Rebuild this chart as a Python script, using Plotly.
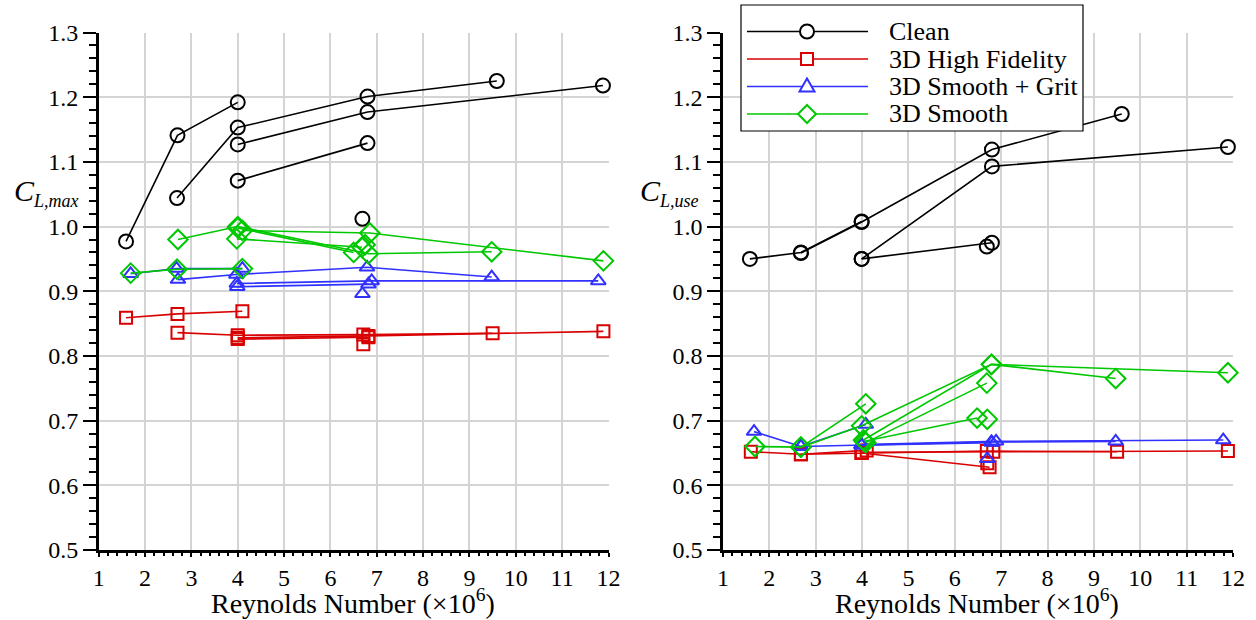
import plotly.graph_objects as go

# ---------------- data (Reynolds number x1e6, coefficient) ----------------
# Left panel: C_L,max
clean_max = [
    ([1.59, 2.70, 4.00], [0.977, 1.141, 1.192]),
    ([2.69, 4.00, 6.80, 9.59], [1.044, 1.153, 1.201, 1.225]),
    ([4.00, 6.80, 11.88], [1.127, 1.177, 1.218]),
    ([4.00, 6.80], [1.071, 1.129]),
    ([6.69], [1.012]),
]
hifi_max = [
    ([1.59, 2.70, 4.10], [0.859, 0.865, 0.869]),
    ([2.70, 4.00, 6.71, 9.50], [0.836, 0.832, 0.833, 0.835]),
    ([4.00, 6.82, 11.89], [0.828, 0.831, 0.838]),
    ([4.00, 6.82], [0.826, 0.829]),
    ([6.71], [0.818]),
]
grit_max = [
    ([1.69, 2.68, 4.10], [0.927, 0.935, 0.935]),
    ([2.71, 3.97, 6.79, 9.48], [0.918, 0.926, 0.937, 0.922]),
    ([3.98, 6.89, 11.78], [0.912, 0.916, 0.916]),
    ([3.99, 6.82], [0.907, 0.911]),
    ([6.69], [0.896]),
]
smooth_max = [
    ([1.69, 2.69, 4.10], [0.928, 0.934, 0.935]),
    ([2.71, 4.00, 6.82, 9.48], [0.980, 1.000, 0.958, 0.961]),
    ([4.10, 6.85, 11.89], [0.994, 0.990, 0.947]),
    ([3.98, 6.68], [0.981, 0.968]),
    ([4.00, 6.50], [0.998, 0.960]),
    ([6.75], [0.972]),
]

# Right panel: C_L,use
clean_use = [
    ([1.58, 2.68, 3.99], [0.950, 0.960, 1.008]),
    ([2.68, 3.99, 6.80, 9.60], [0.959, 1.007, 1.119, 1.174]),
    ([3.99, 6.80, 11.89], [0.950, 1.093, 1.123]),
    ([3.99, 6.80], [0.950, 0.975]),
    ([6.69], [0.969]),
]
hifi_use = [
    ([1.60, 2.68, 4.10], [0.652, 0.648, 0.654]),
    ([2.68, 3.99, 6.69, 9.50], [0.648, 0.650, 0.653, 0.652]),
    ([3.99, 6.83, 11.89], [0.651, 0.652, 0.653]),
    ([3.99, 6.75], [0.650, 0.628]),
    ([6.70], [0.634]),
]
grit_use = [
    ([1.67, 2.68, 4.08], [0.683, 0.660, 0.694]),
    ([2.68, 3.99, 6.79, 9.47], [0.660, 0.662, 0.667, 0.668]),
    ([3.99, 6.89, 11.79], [0.663, 0.668, 0.670]),
    ([3.99, 6.80], [0.662, 0.666]),
    ([6.70], [0.641]),
]
smooth_use = [
    ([1.69, 2.68, 4.08], [0.660, 0.659, 0.726]),
    ([2.68, 3.99, 6.79, 9.47], [0.659, 0.692, 0.787, 0.765]),
    ([4.03, 6.79, 11.89], [0.670, 0.787, 0.774]),
    ([4.08, 6.69], [0.666, 0.758]),
    ([4.05, 6.48], [0.668, 0.704]),
    ([6.70], [0.702]),
]

categories = ["Clean", "3D High Fidelity", "3D Smooth + Grit", "3D Smooth"]
colors = ["#000000", "#d80000", "#3030ff", "#00c800"]
symbols = ["circle-open", "square-open", "triangle-up-open", "diamond-open"]
msizes = [14, 12, 13, 15]

left_sets = [clean_max, hifi_max, grit_max, smooth_max]
right_sets = [clean_use, hifi_use, grit_use, smooth_use]

FONT = "Liberation Serif"
W, H = 1256, 620
fig = go.Figure()

for panel, sets in (("", left_sets), ("2", right_sets)):
    for ci, series_list in enumerate(sets):
        for xs, ys in series_list:
            fig.add_trace(go.Scatter(
                x=xs, y=ys, mode="lines+markers",
                xaxis="x" + panel, yaxis="y" + panel,
                name=categories[ci], showlegend=False,
                line=dict(color=colors[ci], width=1.6),
                marker=dict(symbol=symbols[ci], size=msizes[ci],
                            color=colors[ci], line=dict(width=2, color=colors[ci])),
                cliponaxis=False,
            ))

ytop, ybot = 32.5, 550.0
dom_y = [(H - ybot) / H, (H - ytop) / H]


def xax(x0, x1, anchor):
    return dict(
        domain=[x0 / W, x1 / W], range=[1, 12], dtick=1, tick0=1, anchor=anchor,
        showgrid=True, gridcolor="#d4d4d4", gridwidth=2,
        showline=True, linecolor="black", linewidth=2.5,
        ticks="outside", ticklen=4, tickwidth=2, tickcolor="black",
        minor=dict(dtick=0.2, ticklen=3, tickwidth=1.5, tickcolor="black",
                   ticks="outside", showgrid=False),
        tickfont=dict(family=FONT, size=24, color="black"),
        zeroline=False, automargin=False,
    )


def yax(anchor):
    return dict(
        domain=dom_y, range=[0.5, 1.3], dtick=0.1, tick0=0.5,
        tickformat=".1f", anchor=anchor,
        showgrid=True, gridcolor="#d4d4d4", gridwidth=2,
        showline=True, linecolor="black", linewidth=2.5,
        ticks="outside", ticklen=13, tickwidth=2, tickcolor="black",
        minor=dict(dtick=0.02, ticklen=7, tickwidth=1.5, tickcolor="black",
                   ticks="outside", showgrid=False),
        tickfont=dict(family=FONT, size=24, color="black"),
        zeroline=False, automargin=False,
    )


def PX(px):
    return px / W


def PY(py):
    return (H - py) / H


annotations = []
for cx, sub in ((46, "L,max"), (669, "L,use")):
    annotations.append(dict(
        text="<i>C</i><sub><span style='font-size:18px'><i>" + sub + "</i></span></sub>",
        x=PX(cx), y=PY(192), xanchor="center", yanchor="middle",
        xref="paper", yref="paper", showarrow=False,
        font=dict(family=FONT, size=30, color="black")))
for cx in (353, 977):
    annotations.append(dict(
        text="Reynolds Number (×10<sup>6</sup>)", x=PX(cx), y=PY(620),
        xanchor="center", yanchor="bottom", xref="paper", yref="paper",
        borderpad=0, showarrow=False,
        font=dict(family=FONT, size=28, color="black")))

# ---- legend box drawn on top of the data (as in the reference) ----
shapes = [dict(type="rect", xref="paper", yref="paper",
               x0=PX(741), x1=PX(1083), y0=PY(131), y1=PY(5),
               fillcolor="white", line=dict(color="black", width=1.2),
               layer="above")]
row_y = [31.5, 59, 86.5, 114]
mx = 807
for ci, name in enumerate(categories):
    ry = row_y[ci]
    c = colors[ci]
    shapes.append(dict(type="line", xref="paper", yref="paper",
                       x0=PX(747), x1=PX(868), y0=PY(ry), y1=PY(ry),
                       line=dict(color=c, width=1.6), layer="above"))
    if ci == 0:
        r = 7
        shapes.append(dict(type="circle", xref="paper", yref="paper",
                           x0=PX(mx - r), x1=PX(mx + r), y0=PY(ry + r), y1=PY(ry - r),
                           fillcolor="white", line=dict(color=c, width=2), layer="above"))
    elif ci == 1:
        r = 6
        shapes.append(dict(type="rect", xref="paper", yref="paper",
                           x0=PX(mx - r), x1=PX(mx + r), y0=PY(ry + r), y1=PY(ry - r),
                           fillcolor="white", line=dict(color=c, width=2), layer="above"))
    elif ci == 2:
        p = "M {},{} L {},{} L {},{} Z".format(
            PX(mx), PY(ry - 8), PX(mx - 7.5), PY(ry + 5), PX(mx + 7.5), PY(ry + 5))
        shapes.append(dict(type="path", xref="paper", yref="paper", path=p,
                           fillcolor="white", line=dict(color=c, width=2), layer="above"))
    else:
        p = "M {},{} L {},{} L {},{} L {},{} Z".format(
            PX(mx), PY(ry - 9), PX(mx + 9), PY(ry), PX(mx), PY(ry + 9), PX(mx - 9), PY(ry))
        shapes.append(dict(type="path", xref="paper", yref="paper", path=p,
                           fillcolor="white", line=dict(color=c, width=2), layer="above"))
    annotations.append(dict(text=name, x=PX(887), y=PY(ry), xanchor="left",
                            yanchor="middle", xref="paper", yref="paper",
                            showarrow=False,
                            font=dict(family=FONT, size=26, color="black")))

fig.update_layout(
    width=W, height=H,
    margin=dict(l=0, r=0, t=0, b=0),
    paper_bgcolor="white", plot_bgcolor="white",
    xaxis=xax(98.7, 608.5, "y"),
    yaxis=yax("x"),
    xaxis2=xax(723, 1233, "y2"),
    yaxis2=yax("x2"),
    showlegend=False,
    shapes=shapes,
    annotations=annotations,
)

fig.write_html("out.html", config={"displayModeBar": False},
               post_script="document.body.style.margin='0px';document.body.style.overflow='hidden';")
